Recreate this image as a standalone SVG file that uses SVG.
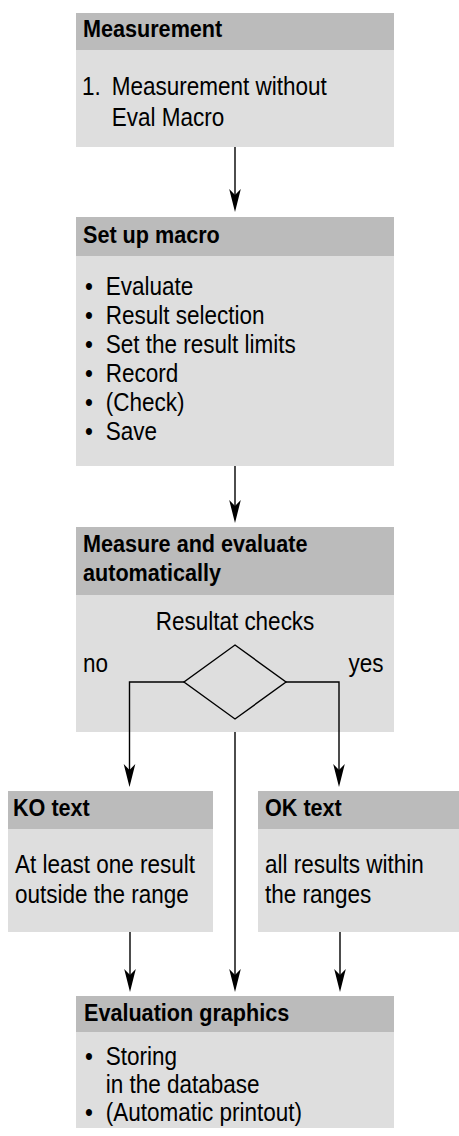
<svg xmlns="http://www.w3.org/2000/svg" width="459" height="1136" viewBox="0 0 459 1136">
<defs>
<style>
.hd{fill:#bbbbbb}
.bd{fill:#dedede}
.h{font-family:"Liberation Sans",Arial,sans-serif;font-weight:bold;font-size:24px;fill:#000}
.t{font-family:"Liberation Sans",Arial,sans-serif;font-size:25px;fill:#000}
.ln{fill:none;stroke:#000;stroke-width:1.4}
</style>
<marker id="ah" markerUnits="userSpaceOnUse" viewBox="-24 -7 25 14" refX="-17" refY="0" markerWidth="25" markerHeight="14" orient="auto">
<path d="M0,0 L-23,-5.8 L-17,0 L-23,5.8 Z" fill="#000"/>
</marker>
</defs>
<rect width="459" height="1136" fill="#fff"/>

<g id="node-measurement">
<rect class="bd" x="76" y="13" width="318" height="134"/>
<rect class="hd" x="76" y="13" width="318" height="37"/>
<text class="h" transform="translate(83 37) scale(0.9 1)">Measurement</text>
<text class="t" transform="translate(82 95) scale(0.9 1)"><tspan x="0">1.</tspan><tspan x="33">Measurement without</tspan><tspan x="33" dy="31">Eval Macro</tspan></text>
</g>

<g id="node-setup">
<rect class="bd" x="76" y="217" width="318" height="249"/>
<rect class="hd" x="76" y="217" width="318" height="39"/>
<text class="h" transform="translate(83 243) scale(0.9 1)">Set up macro</text>
<text class="t" transform="translate(85 295) scale(0.9 1)"><tspan x="0">•</tspan><tspan x="23">Evaluate</tspan><tspan x="0" dy="29">•</tspan><tspan x="23">Result selection</tspan><tspan x="0" dy="29">•</tspan><tspan x="23">Set the result limits</tspan><tspan x="0" dy="29">•</tspan><tspan x="23">Record</tspan><tspan x="0" dy="29">•</tspan><tspan x="23">(Check)</tspan><tspan x="0" dy="29">•</tspan><tspan x="23">Save</tspan></text>
</g>

<g id="node-measure-evaluate">
<rect class="bd" x="76" y="527" width="318" height="205"/>
<rect class="hd" x="76" y="527" width="318" height="68"/>
<text class="h" transform="translate(83 552) scale(0.9 1)"><tspan x="0">Measure and evaluate</tspan><tspan x="0" dy="29">automatically</tspan></text>
</g>

<g id="node-decision">
<text class="t" text-anchor="middle" transform="translate(235 630) scale(0.9 1)">Resultat checks</text>
<polygon class="ln" points="235,645 286,682 235,719 184,682"/>
</g>

<g id="node-ko">
<rect class="bd" x="8" y="791" width="205" height="141"/>
<rect class="hd" x="8" y="791" width="205" height="38"/>
<text class="h" transform="translate(13 816) scale(0.9 1)">KO text</text>
<text class="t" transform="translate(15 873) scale(0.9 1)"><tspan x="0">At least one result</tspan><tspan x="0" dy="30">outside the range</tspan></text>
</g>

<g id="node-ok">
<rect class="bd" x="258" y="791" width="201" height="141"/>
<rect class="hd" x="258" y="791" width="201" height="38"/>
<text class="h" transform="translate(265 816) scale(0.9 1)">OK text</text>
<text class="t" transform="translate(265 873) scale(0.9 1)"><tspan x="0">all results within</tspan><tspan x="0" dy="30">the ranges</tspan></text>
</g>

<g id="node-evaluation">
<rect class="bd" x="76" y="996" width="318" height="132"/>
<rect class="hd" x="76" y="996" width="318" height="36"/>
<text class="h" transform="translate(84 1021) scale(0.9 1)">Evaluation graphics</text>
<text class="t" transform="translate(85 1065) scale(0.9 1)"><tspan x="0">•</tspan><tspan x="23">Storing</tspan><tspan x="23" dy="28">in the database</tspan><tspan x="0" dy="28">•</tspan><tspan x="23">(Automatic printout)</tspan></text>
</g>

<g id="connectors">
<line class="ln" x1="235" y1="147" x2="235" y2="195" marker-end="url(#ah)"/>
<line class="ln" x1="235" y1="466" x2="235" y2="506" marker-end="url(#ah)"/>
<polyline class="ln" points="184,682 129.5,682 129.5,770" marker-end="url(#ah)"/>
<polyline class="ln" points="286,682 339,682 339,770" marker-end="url(#ah)"/>
<line class="ln" x1="235" y1="732" x2="235" y2="975" marker-end="url(#ah)"/>
<line class="ln" x1="130" y1="932" x2="130" y2="975" marker-end="url(#ah)"/>
<line class="ln" x1="340" y1="932" x2="340" y2="975" marker-end="url(#ah)"/>
<text class="t" transform="translate(83 672) scale(0.9 1)">no</text>
<text class="t" text-anchor="end" transform="translate(383.5 672) scale(0.9 1)">yes</text>
</g>
</svg>
